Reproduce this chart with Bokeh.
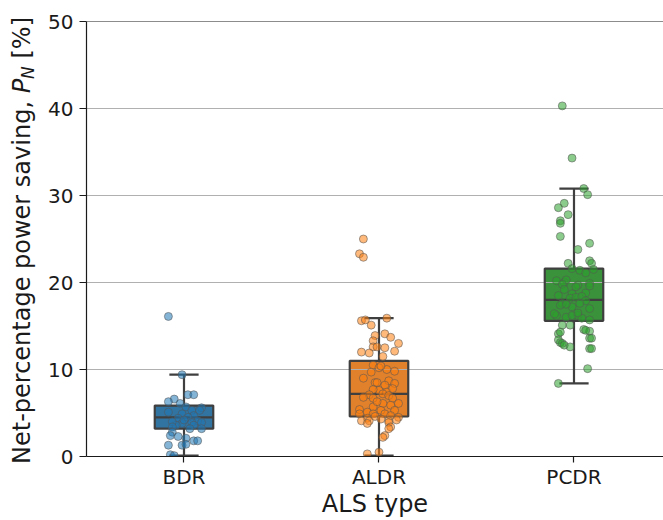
from bokeh.plotting import figure
from bokeh.layouts import row
from bokeh.models import Div, FixedTicker, Span
from bokeh.embed import file_html
from bokeh.resources import INLINE

# ALS types and their colours
categories = ["BDR", "ALDR", "PCDR"]
box_colors = ["#3274a1", "#e1812c", "#3a923a"]
point_colors = ["#1f77b4", "#ff7f0e", "#2ca02c"]

# box statistics per type: lower whisker, Q1, median, Q3, upper whisker
whisker_lo = [0.1, 0.1, 8.4]
q1 = [3.2, 4.6, 15.6]
median = [4.5, 7.2, 18.0]
q3 = [5.85, 11.0, 21.6]
whisker_hi = [9.4, 15.9, 30.8]

# individual observations (net-percentage power saving, %)
bdr_values = [16.1, 9.4, 7.1, 7.1, 6.6, 6.3, 6.1, 5.7, 5.6, 5.1, 5.3, 5.3,
              4.9, 4.7, 4.4, 4.1, 4.5, 3.9, 3.9, 3.8, 3.6, 3.6, 4.2, 4.0,
              3.2, 3.4, 3.2, 2.8, 2.4, 2.3, 2.1, 1.8, 1.8, 1.3, 1.3, 1.4,
              0.2, 0.1]
bdr_jitter = [-0.08, -0.01, 0.02, 0.05, -0.05, -0.08, -0.02, 0.01, 0.09, -0.08, 0.04, 0.08,
              -0.01, 0.05, -0.03, 0.07, 0.02, 0.04, 0.09, -0.01, -0.04, 0.05, 0.0, -0.06,
              0.03, -0.06, 0.09, -0.06, -0.07, -0.03, 0.01, 0.05, 0.07, -0.08, -0.01, 0.01,
              -0.07, -0.05]

aldr_values = [25.0, 23.3, 22.9, 15.6, 15.7, 15.1, 15.9,
               13.9, 14.1, 13.7, 13.3, 13.0, 12.6, 12.6, 12.5, 12.0, 11.9, 12.1, 11.5,
               10.5, 10.2, 10.0, 9.8, 9.7, 10.4, 9.0, 8.7, 8.5, 8.5, 8.4, 8.2,
               7.6, 7.4, 7.7, 7.8, 7.2, 7.1, 7.0,
               6.8, 6.7, 6.7, 6.1, 6.1, 5.9, 5.7, 5.4, 5.1, 5.3, 5.3, 6.3,
               4.9, 4.9, 4.9, 4.7, 4.5, 4.4, 4.1, 4.1, 4.1, 4.2, 3.8, 3.9, 4.6, 4.3,
               3.4, 3.2, 2.4, 2.2, 0.3, 0.5]
aldr_jitter = [-0.08, -0.10, -0.08, -0.09, -0.07, -0.04, 0.04,
               -0.02, 0.03, 0.06, -0.03, 0.10, -0.03, -0.01, 0.03, -0.09, -0.05, 0.08, 0.02,
               -0.03, 0.0, 0.04, 0.08, -0.04, 0.01, -0.08, 0.05, -0.02, -0.01, 0.08, 0.03,
               0.0, 0.04, -0.03, 0.07, 0.02, -0.05, 0.05,
               -0.08, -0.03, 0.07, 0.10, 0.02, 0.06, -0.03, -0.10, -0.06, 0.01, 0.08, -0.01,
               -0.10, -0.03, 0.03, 0.06, 0.10, -0.06, -0.09, -0.05, 0.05, 0.09, -0.06, 0.05, -0.02, 0.01,
               0.06, 0.05, 0.03, 0.02, -0.06, 0.0]

pcdr_values = [40.3, 34.3, 30.8, 30.1, 29.1, 28.6, 27.8, 27.1, 26.8, 25.3, 24.5, 23.8,
               22.5, 22.2, 22.2, 21.6, 21.4, 21.1, 21.5,
               20.2, 20.0, 20.3, 19.7, 19.9, 19.8, 19.6, 19.5,
               19.2, 18.8, 18.7, 18.5, 18.2, 18.3, 18.4, 17.9, 17.6, 17.6, 17.2, 17.0, 17.4, 17.5,
               16.2, 16.0, 16.2, 15.9, 15.7, 16.4, 16.2, 16.5,
               15.1, 15.1, 14.6, 14.4, 14.1, 14.3, 14.5,
               13.6, 13.6, 13.4, 13.1, 13.0, 12.8, 12.6, 12.4, 12.4,
               10.1, 8.4]
pcdr_jitter = [-0.06, -0.01, 0.05, 0.07, -0.05, -0.08, -0.03, -0.07, -0.07, -0.07, 0.08, 0.02,
               0.08, 0.09, -0.03, -0.01, 0.03, 0.06, 0.10,
               -0.09, -0.05, -0.04, 0.02, 0.08, -0.06, 0.08, 0.01,
               -0.05, 0.06, -0.01, -0.08, -0.02, 0.01, 0.04, 0.06, -0.06, 0.03, -0.01, 0.08, -0.07, -0.04,
               -0.09, -0.04, 0.02, 0.04, 0.08, -0.10, -0.01, 0.02,
               -0.06, -0.02, 0.05, 0.08, -0.08, -0.07, 0.06,
               0.08, 0.09, -0.08, -0.07, -0.06, -0.05, -0.02, 0.08, 0.09,
               0.07, -0.08]

y_ticks = [0, 10, 20, 30, 40, 50]

FONT = "DejaVu Sans"
INK = "#1a1a1a"
EDGE = "#3f3f3f"
BOX_WIDTH = 0.3
CAP_WIDTH = 0.15

H = 520
TITLE_W = 44          # strip holding the vertical y-axis title
MAIN_W = 663 - TITLE_W

# ---- main chart ----
p = figure(width=MAIN_W, height=H, output_backend="svg", toolbar_location=None,
           x_range=(-0.5, 2.459), y_range=(0, 50), margin=0,
           min_border_left=42, min_border_right=0, min_border_top=21, min_border_bottom=64)
p.outline_line_color = None
p.background_fill_color = "white"
p.border_fill_color = "white"

positions = list(range(len(categories)))
box_left = [x - BOX_WIDTH / 2 for x in positions]
box_right = [x + BOX_WIDTH / 2 for x in positions]
cap_left = [x - CAP_WIDTH / 2 for x in positions]
cap_right = [x + CAP_WIDTH / 2 for x in positions]

# box bodies sit beneath the grid lines
p.quad(left=box_left, right=box_right, bottom=q1, top=q3,
       fill_color=box_colors, line_color=None, level="image")

# whiskers, caps, box outlines and medians
p.segment(x0=positions, x1=positions, y0=whisker_lo, y1=q1, line_color=EDGE, line_width=2.2)
p.segment(x0=positions, x1=positions, y0=q3, y1=whisker_hi, line_color=EDGE, line_width=2.2)
p.segment(x0=cap_left, x1=cap_right, y0=whisker_lo, y1=whisker_lo, line_color=EDGE, line_width=2.2)
p.segment(x0=cap_left, x1=cap_right, y0=whisker_hi, y1=whisker_hi, line_color=EDGE, line_width=2.2)
p.quad(left=box_left, right=box_right, bottom=q1, top=q3,
       fill_color=None, line_color=EDGE, line_width=2.2)
p.segment(x0=box_left, x1=box_right, y0=median, y1=median, line_color=EDGE, line_width=2.2)

# jittered observations
groups = [(bdr_values, bdr_jitter), (aldr_values, aldr_jitter), (pcdr_values, pcdr_jitter)]
for i, (vals, jit) in enumerate(groups):
    xs = [i + j for j in jit]
    p.scatter(xs, vals, size=8, fill_color=point_colors[i], fill_alpha=0.55,
              line_color="#555555", line_alpha=0.55, line_width=1)

# top spine
p.add_layout(Span(location=50, dimension="width", line_color=INK, line_width=1.2))

# grid
p.xgrid.grid_line_color = None
p.ygrid.grid_line_color = "#b0b0b0"
p.ygrid.grid_line_width = 1
p.ygrid.ticker = FixedTicker(ticks=y_ticks)

# axes
p.xaxis.ticker = FixedTicker(ticks=positions)
p.xaxis.major_label_overrides = {i: c for i, c in enumerate(categories)}
p.yaxis.ticker = FixedTicker(ticks=y_ticks)
for ax in (p.xaxis[0], p.yaxis[0]):
    ax.axis_line_color = INK
    ax.axis_line_width = 1.2
    ax.major_tick_line_color = INK
    ax.major_tick_line_width = 1.2
    ax.major_tick_in = 0
    ax.minor_tick_line_color = None
    ax.major_label_text_font = FONT
    ax.major_label_text_font_size = "20px"
    ax.major_label_text_color = INK
p.xaxis.major_tick_out = 6
p.xaxis.major_label_standoff = 2
p.yaxis.major_tick_out = 7
p.yaxis.major_label_standoff = 6

p.xaxis.axis_label = "ALS type"
p.xaxis.axis_label_text_font = FONT
p.xaxis.axis_label_text_font_size = "24px"
p.xaxis.axis_label_text_font_style = "normal"
p.xaxis.axis_label_text_color = INK
p.xaxis.axis_label_standoff = -2

# ---- y-axis title strip, with an italic P and subscript N ----
y_title_html = (
    '<div style="position:relative;width:44px;height:520px;overflow:visible;">'
    '<span style="position:absolute;left:8px;top:464px;transform:rotate(-90deg);'
    'transform-origin:0 0;white-space:nowrap;font-family:\'DejaVu Sans\';'
    'font-size:24px;line-height:28px;color:#1a1a1a;">'
    'Net-percentage power saving, <i>P</i>'
    '<span style="font-size:17px;font-style:italic;vertical-align:-4px;">N</span>'
    ' [%]</span></div>'
)
y_title = Div(text=y_title_html, width=TITLE_W, height=H, margin=0, disable_math=True)

layout = row(y_title, p, spacing=0)
open("out.html", "w").write(file_html(layout, INLINE))
